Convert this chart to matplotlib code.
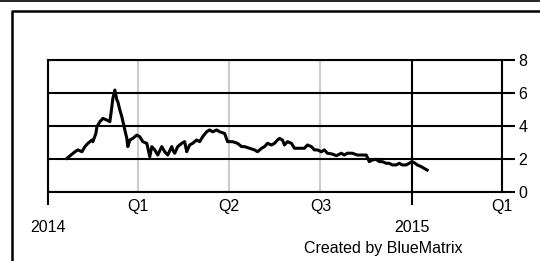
import pandas as pd
import matplotlib
matplotlib.use("Agg")
import matplotlib.pyplot as plt
from matplotlib.lines import Line2D

plt.rcParams['font.family'] = ['Liberation Sans', 'DejaVu Sans']

# data: days since 2014-01-01 and price
start = pd.Timestamp("2014-01-01")
day = [19, 27, 30, 34, 37, 40, 44, 45, 48, 49, 52, 55, 59, 62, 64, 65, 67, 69, 70, 72,
       74, 77, 79, 80, 82, 85, 89, 92, 95, 99, 102, 104, 107, 110, 114, 117, 120, 124, 125, 127,
       130, 134, 137, 139, 142, 145, 149, 152, 155, 159, 162, 165, 169, 172, 177, 180, 185, 190, 194, 197,
       202, 207, 210, 214, 217, 220, 224, 227, 230, 232, 235, 237, 240, 244, 247, 252, 257, 260, 264, 267,
       270, 274, 277, 280, 285, 289, 294, 297, 300, 305, 310, 314, 319, 322, 325, 329, 332, 335, 339, 342,
       345, 349, 352, 355, 359, 362, 365, 368, 370, 374, 377, 380]
price = [2.04, 2.44, 2.55, 2.44, 2.75, 2.95, 3.15, 3.05, 3.55, 3.96, 4.26, 4.46, 4.36, 4.26, 5.17, 5.68, 6.18, 5.58, 5.47, 4.97,
         4.56, 3.76, 3.25, 2.75, 3.15, 3.25, 3.45, 3.35, 3.05, 2.95, 2.14, 2.75, 2.55, 2.24, 2.75, 2.44, 2.24, 2.75, 2.55, 2.35,
         2.75, 2.95, 3.05, 2.44, 2.85, 2.95, 3.15, 3.05, 3.35, 3.65, 3.76, 3.65, 3.76, 3.65, 3.55, 3.05, 3.05, 2.95, 2.75, 2.75,
         2.65, 2.55, 2.44, 2.65, 2.75, 2.95, 2.85, 2.95, 3.15, 3.25, 3.15, 2.85, 3.05, 2.95, 2.65, 2.65, 2.65, 2.85, 2.75, 2.55,
         2.55, 2.44, 2.55, 2.35, 2.30, 2.20, 2.35, 2.24, 2.35, 2.35, 2.24, 2.24, 2.24, 1.84, 1.94, 1.98, 1.84, 1.84, 1.74, 1.74,
         1.64, 1.64, 1.74, 1.64, 1.64, 1.74, 1.84, 1.74, 1.64, 1.54, 1.43, 1.33]
dates = [start + pd.Timedelta(days=d) for d in day]

year_ticks = ["2014-01-01", "2015-01-01"]
year_labels = ["2014", "2015"]
quarter_ticks = ["2014-04-01", "2014-07-01", "2014-10-01", "2015-04-01"]
quarter_labels = ["Q1", "Q2", "Q3", "Q1"]
y_ticks = [0, 2, 4, 6, 8]

fig = plt.figure(figsize=(5.4, 2.61), dpi=100)
ax = fig.add_axes([0.0889, 0.2644, 0.8407, 0.5057])

ax.plot(dates, price, color="black", lw=2.2, solid_joinstyle="round", zorder=5)

ax.set_xlim(pd.Timestamp("2014-01-01"), pd.Timestamp("2015-04-01"))
ax.set_ylim(0, 8)

ax.set_xticks(pd.to_datetime(year_ticks))
ax.set_xticklabels(year_labels)
ax.set_xticks(pd.to_datetime(quarter_ticks), minor=True)
ax.set_xticklabels(quarter_labels, minor=True)
ax.tick_params(axis="x", which="major", length=9, width=1.5, pad=11, labelsize=11.5, direction="out")
ax.tick_params(axis="x", which="minor", length=0, pad=5, labelsize=11.5)

ax.yaxis.tick_right()
ax.set_yticks(y_ticks)
ax.tick_params(axis="y", length=9, width=1.5, pad=3, labelsize=11.5, direction="out")

ax.xaxis.grid(True, which="major", color="black", lw=1.5)
ax.xaxis.grid(True, which="minor", color="#cccccc", lw=1.5)
ax.yaxis.grid(True, color="black", lw=1.5)
ax.set_axisbelow(True)

for s in ax.spines.values():
    s.set_color("black")
    s.set_linewidth(1.5)

# page frame
fig.add_artist(Line2D([0, 1], [0.996, 0.996], color="black", lw=1.2, transform=fig.transFigure))
fig.add_artist(Line2D([0.022, 0.022, 1], [0, 0.958, 0.958], color="black", lw=1.8, transform=fig.transFigure))

fig.text(0.710, 0.048, "Created by BlueMatrix", ha="center", va="center", fontsize=11.5)

fig.savefig("out.png", dpi=100)
